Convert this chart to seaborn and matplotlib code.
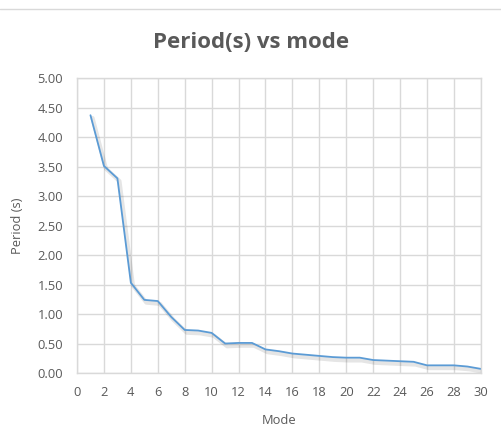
import numpy as np
import pandas as pd
import matplotlib
matplotlib.use("Agg")
import matplotlib.pyplot as plt
import matplotlib.patheffects as pe
from matplotlib.lines import Line2D
import seaborn as sns

# DATA
modes = list(range(1, 31))
periods = [4.37, 3.51, 3.30, 1.53, 1.24, 1.22, 0.95, 0.73, 0.72, 0.68,
           0.50, 0.51, 0.51, 0.40, 0.37, 0.33, 0.31, 0.29, 0.27, 0.26,
           0.26, 0.22, 0.21, 0.20, 0.19, 0.13, 0.13, 0.13, 0.11, 0.07]
x_ticks = list(range(0, 31, 2))
y_ticks = [0.0, 0.5, 1.0, 1.5, 2.0, 2.5, 3.0, 3.5, 4.0, 4.5, 5.0]

df = pd.DataFrame({"Mode": modes, "Period": periods})

sns.set_theme(style="white")
plt.rcParams["font.family"] = ["Open Sans", "DejaVu Sans"]

grey = "#595959"
grid = "#d9d9d9"

fig = plt.figure(figsize=(5.02, 4.29), dpi=100)
ax = fig.add_axes([0.1534, 0.1305, 0.958 - 0.1534, 0.818 - 0.1305])

sns.lineplot(data=df, x="Mode", y="Period", ax=ax, color="#5B9BD5", linewidth=1.3,
             path_effects=[pe.SimpleLineShadow(offset=(1.5, -2), shadow_color="#000000",
                                                alpha=0.1, linewidth=3), pe.Normal()])

ax.set_xlim(0, 30)
ax.set_ylim(0, 5)
ax.set_xticks(x_ticks)
ax.set_yticks(y_ticks)
ax.set_yticklabels([f"{v:.2f}" for v in y_ticks])
ax.grid(True, color=grid, linewidth=1)
ax.set_axisbelow(True)
for s in ax.spines.values():
    s.set_color(grid)
    s.set_linewidth(1)
ax.tick_params(axis="both", colors=grey, labelsize=9.3, length=0)
ax.tick_params(axis="x", pad=9)
ax.tick_params(axis="y", pad=10)

ax.set_xlabel("Mode", color=grey, fontsize=9.3, labelpad=11)
ax.set_ylabel("Period (s)", color=grey, fontsize=9.3, labelpad=10)
fig.text(0.5, 0.902, "Period(s) vs mode", ha="center", va="center",
         fontsize=16, fontweight="bold", color=grey)

# chart border line at the top
fig.add_artist(Line2D([0, 1], [1 - 9 / 429, 1 - 9 / 429], color=grid, linewidth=1))

fig.savefig("out.png", dpi=100)
